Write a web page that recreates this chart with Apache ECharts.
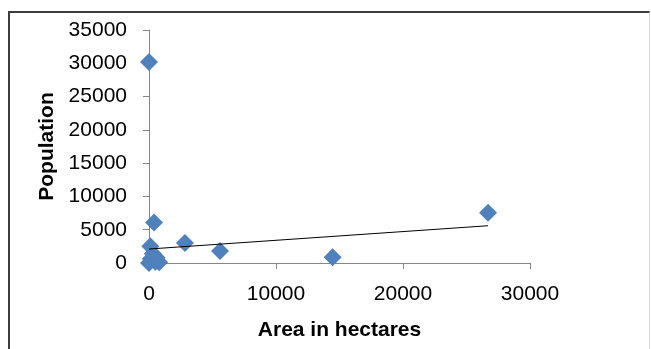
<!DOCTYPE html>
<html>
<head>
<meta charset="utf-8">
<title>Population vs Area</title>
<script src="https://cdn.jsdelivr.net/npm/echarts@6/dist/echarts.min.js"></script>
<style>
  html, body { margin: 0; padding: 0; background: #ffffff; }
  #wrap { position: relative; width: 651px; height: 349px; overflow: hidden; background: #ffffff; }
  #frame {
    position: absolute; left: 8px; top: 11px; width: 642px; height: 400px;
    border-left: 2px solid #3c3c3c; border-top: 2px solid #3c3c3c;
    border-right: 1px solid #d9d9d9; box-sizing: border-box;
  }
  #chart { position: absolute; left: 0; top: 0; width: 651px; height: 349px; }
</style>
</head>
<body>
<div id="wrap">
  <div id="frame"></div>
  <div id="chart"></div>
</div>
<script>
// Area (hectares) and population of each locality
const areaHa = [0, 400, 26700, 2830, 5590, 14460, 100, 300, 150, 0, 500, 800, 600];
const population = [30200, 6100, 7550, 3000, 1800, 850, 2500, 1400, 650, 0, 200, 100, 800];

// Linear trendline endpoints
const trendArea = [0, 26700];
const trendPopulation = [2100, 5600];

// Axis tick values
const xTicks = [0, 10000, 20000, 30000];
const yTicks = [0, 5000, 10000, 15000, 20000, 25000, 30000, 35000];

const points = areaHa.map((a, i) => [a, population[i]]);
const trend = trendArea.map((a, i) => [a, trendPopulation[i]]);

const axisColor = '#868686';
const font = 'Liberation Sans, Arial, sans-serif';
const plain = v => String(v);

const chart = echarts.init(document.getElementById('chart'), null, { renderer: 'canvas' });
chart.setOption({
  animation: false,
  backgroundColor: 'transparent',
  grid: { left: 149, top: 30, width: 381, height: 233, containLabel: false },
  xAxis: {
    type: 'value',
    min: xTicks[0],
    max: xTicks[xTicks.length - 1],
    interval: xTicks[1] - xTicks[0],
    name: 'Area in hectares',
    nameLocation: 'middle',
    nameGap: 57,
    nameTextStyle: { fontFamily: font, fontSize: 21, fontWeight: 'bold', color: '#000' },
    axisLine: { show: true, lineStyle: { color: axisColor, width: 1 } },
    axisTick: { show: true, length: 6, lineStyle: { color: axisColor } },
    axisLabel: { margin: 21, fontFamily: font, fontSize: 21, color: '#000', formatter: plain },
    splitLine: { show: false }
  },
  yAxis: {
    type: 'value',
    min: yTicks[0],
    max: yTicks[yTicks.length - 1],
    interval: yTicks[1] - yTicks[0],
    name: 'Population',
    nameLocation: 'middle',
    nameGap: 86,
    nameRotate: 90,
    nameTextStyle: { fontFamily: font, fontSize: 21, fontWeight: 'bold', color: '#000' },
    axisLine: { show: true, lineStyle: { color: axisColor, width: 1 } },
    axisTick: { show: true, length: 6, lineStyle: { color: axisColor } },
    axisLabel: { margin: 22, fontFamily: font, fontSize: 21, color: '#000', formatter: plain },
    splitLine: { show: false }
  },
  series: [
    {
      type: 'line',
      data: trend,
      symbol: 'none',
      lineStyle: { color: '#000000', width: 1 },
      z: 3,
      silent: true
    },
    {
      type: 'scatter',
      data: points,
      symbol: 'diamond',
      symbolSize: 18,
      itemStyle: { color: '#4F81BD', opacity: 1 },
      z: 2
    }
  ]
});
</script>
</body>
</html>
